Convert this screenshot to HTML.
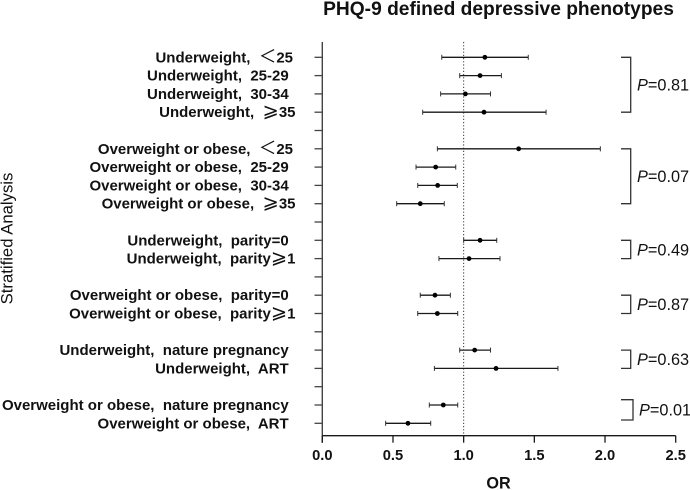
<!DOCTYPE html>
<html>
<head>
<meta charset="utf-8">
<title>PHQ-9 defined depressive phenotypes</title>
<style>
html,body{margin:0;padding:0;background:#fff;}
svg{display:block;font-family:"Liberation Sans","Noto Sans CJK SC",sans-serif;}
text{fill:#111;white-space:pre;}
</style>
</head>
<body>
<svg id="chart" width="690" height="490" viewBox="0 0 690 490" xmlns="http://www.w3.org/2000/svg">
<text x="498.5" y="15" text-anchor="middle" font-size="19.2" font-weight="bold">PHQ-9 defined depressive phenotypes</text>
<text transform="translate(12.7,238.5) rotate(-90)" text-anchor="middle" font-size="16.7">Stratified Analysis</text>
<text x="498.5" y="488.5" text-anchor="middle" font-size="16.2" font-weight="bold">OR</text>
</svg>
<script>
const categories = [
  "Underweight,  ＜25", "Underweight,  25-29", "Underweight,  30-34", "Underweight,  ⩾35", "",
  "Overweight or obese,  ＜25", "Overweight or obese,  25-29", "Overweight or obese,  30-34", "Overweight or obese,  ⩾35", "",
  "Underweight,  parity=0", "Underweight,  parity⩾1", "",
  "Overweight or obese,  parity=0", "Overweight or obese,  parity⩾1", "",
  "Underweight,  nature pregnancy", "Underweight,  ART", "",
  "Overweight or obese,  nature pregnancy", "Overweight or obese,  ART"
];
const orValues = [1.15,1.116,1.012,1.144,null,1.389,0.802,0.816,0.693,null,1.116,1.038,null,0.797,0.814,null,1.078,1.229,null,0.856,0.606];
const lowerValues = [0.845,0.972,0.837,0.71,null,0.814,0.663,0.675,0.526,null,1.0,0.825,null,0.693,0.675,null,0.972,0.793,null,0.757,0.448];
const upperValues = [1.457,1.267,1.19,1.583,null,1.967,0.944,0.955,0.863,null,1.234,1.257,null,0.906,0.958,null,1.19,1.667,null,0.958,0.767];
const xTicks = ["0.0","0.5","1.0","1.5","2.0","2.5"];
const groupStart = [0,5,10,13,16,19];
const groupEnd = [3,8,11,14,17,20];
const groupP = ["0.81","0.07","0.49","0.87","0.63","0.01"];

const NS = "http://www.w3.org/2000/svg";
const svg = document.getElementById("chart");
const xScale = v => 322.3 + v * 141.36;
const yScale = i => 57.3 + i * 18.3;
const plotTop = 42, plotBottom = 435.7;

function make(tag, attrs, parent) {
  const el = document.createElementNS(NS, tag);
  for (const k in attrs) el.setAttribute(k, attrs[k]);
  (parent || svg).appendChild(el);
  return el;
}
function seg(x1, y1, x2, y2, w, color) {
  return make("line", {x1, y1, x2, y2, "stroke-width": w, stroke: color || "#1a1a1a"});
}

/* axes */
const yAxis = seg(322.3, plotTop, 322.3, plotBottom + 7, 1.4, "#444");


const xAxis = seg(322.3, plotBottom, xScale(2.5), plotBottom, 1.3, "#1a1a1a");



/* reference line */
const refLine = seg(xScale(1), plotTop, xScale(1), plotBottom, 1, "#333");
refLine.setAttribute("stroke-dasharray", "1.2 2");



/* x ticks */
xTicks.forEach(t => {
  const x = xScale(parseFloat(t));
  const tick = seg(x, plotBottom, x, plotBottom + 7, 1.3, "#1a1a1a");
  
  
  const label = make("text", {x, y: 460, "text-anchor": "middle", "font-size": 14.7, "font-weight": "bold"});
  label.textContent = t;
  
  
});

/* y ticks, labels and interval marks */
categories.forEach((c, i) => {
  const y = yScale(i);
  const tick = seg(314.5, y, 322.3, y, 1.3, "#444");
  
  
  if (!c) return;

  const right = c.includes("＜") ? 293 : c.includes("⩾") ? 295.5 : 288.7;
  const label = make("text", {x: right, y: y + 5, "text-anchor": "end", "font-size": 15, "font-weight": "bold"});
  
  
  c.split(/([＜⩾])/).forEach(part => {
    if (!part) return;
    const span = make("tspan", {}, label);
    span.textContent = part;
    if (part === "＜" || part === "⩾") {
      span.setAttribute("font-weight", "normal");
      span.setAttribute("font-family", '"DejaVu Sans","Noto Sans CJK SC",sans-serif');
      span.setAttribute("font-size", part === "⩾" ? 19.5 : 17.5);
    }
  });

  const lo = xScale(lowerValues[i]), hi = xScale(upperValues[i]);
  const ci = seg(lo, y, hi, y, 1.3);
  
  
  const capL = seg(lo, y - 2.5, lo, y + 2.5, 1, "#333");
  
  
  const capH = seg(hi, y - 2.5, hi, y + 2.5, 1, "#333");
  
  
  const dot = make("circle", {cx: xScale(orValues[i]), cy: y, r: 2.4, fill: "#000"});
  
  
});

/* group brackets and P values */
groupP.forEach((p, g) => {
  const last = g === groupP.length - 1;
  const yA = yScale(groupStart[g]) - (last ? 5.3 : 0);
  const yB = yScale(groupEnd[g]) - (last ? 3.3 : 0);
  const xR = last ? 633 : 630.7;
  const bracket = make("path", {d: `M621 ${yA}H${xR}V${yB}H621`, fill: "none", stroke: "#333", "stroke-width": 1.3});
  
  
  const label = make("text", {x: last ? 639 : 637, y: (yA + yB) / 2 + 5.8, "font-size": 16.3});
  
  
  const pSpan = make("tspan", {"font-style": "italic"}, label);
  pSpan.textContent = "P";
  const vSpan = make("tspan", {}, label);
  vSpan.textContent = "=" + p;
});
</script>
</body>
</html>
